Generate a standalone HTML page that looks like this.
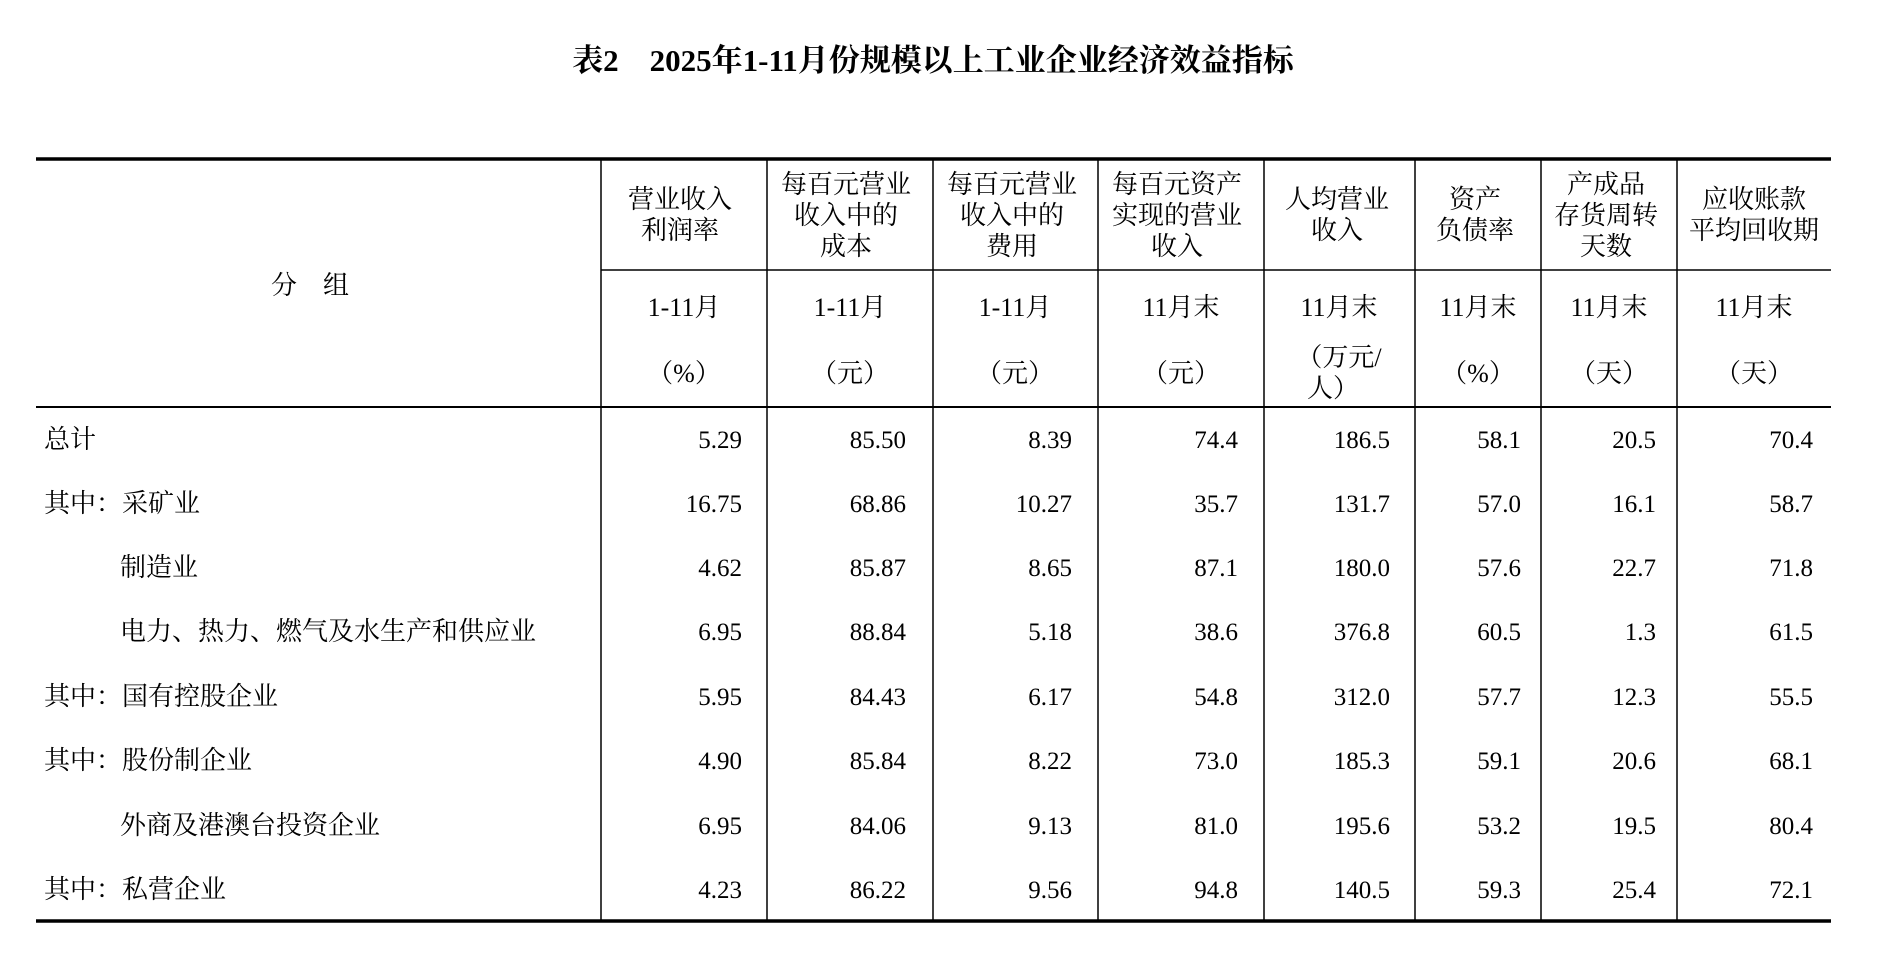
<!DOCTYPE html>
<html><head><meta charset="utf-8"><style>
html,body{margin:0;padding:0;background:#fff;}
svg{display:block;}
text{font-family:"Liberation Serif","Noto Serif CJK SC",serif;font-size:26px;fill:#000;}
.t{font-weight:bold;font-size:31px;}
.c{text-anchor:middle;}
.r{text-anchor:end;font-size:25px;}
.n{font-size:25px;}
</style></head><body>
<svg width="1884" height="976" viewBox="0 0 1884 976" xmlns="http://www.w3.org/2000/svg">
<text class="t c" x="933" y="71">表2　2025年1-11月份规模以上工业企业经济效益指标</text>
<line x1="36" y1="159" x2="1831" y2="159" stroke="#000" stroke-width="3.5"/>
<line x1="36" y1="921" x2="1831" y2="921" stroke="#000" stroke-width="3.5"/>
<line x1="36" y1="407" x2="1831" y2="407" stroke="#000" stroke-width="2"/>
<line x1="601" y1="270" x2="1831" y2="270" stroke="#000" stroke-width="1.5"/>
<g stroke="#000" stroke-width="1.5">
<line x1="601" y1="159" x2="601" y2="921"/><line x1="767" y1="159" x2="767" y2="921"/>
<line x1="933" y1="159" x2="933" y2="921"/><line x1="1098" y1="159" x2="1098" y2="921"/>
<line x1="1264" y1="159" x2="1264" y2="921"/><line x1="1415" y1="159" x2="1415" y2="921"/>
<line x1="1541" y1="159" x2="1541" y2="921"/><line x1="1677" y1="159" x2="1677" y2="921"/>
</g>
<text class="c" x="310" y="294">分　组</text>
<g>
<text class="c" x="680" y="208">营业收入</text><text class="c" x="680" y="239">利润率</text>
<text class="c" x="846" y="193">每百元营业</text><text class="c" x="846" y="224">收入中的</text><text class="c" x="846" y="255">成本</text>
<text class="c" x="1012" y="193">每百元营业</text><text class="c" x="1012" y="224">收入中的</text><text class="c" x="1012" y="255">费用</text>
<text class="c" x="1177" y="193">每百元资产</text><text class="c" x="1177" y="224">实现的营业</text><text class="c" x="1177" y="255">收入</text>
<text class="c" x="1337" y="208">人均营业</text><text class="c" x="1337" y="239">收入</text>
<text class="c" x="1475" y="208">资产</text><text class="c" x="1475" y="239">负债率</text>
<text class="c" x="1606" y="193">产成品</text><text class="c" x="1606" y="224">存货周转</text><text class="c" x="1606" y="255">天数</text>
<text class="c" x="1754" y="208">应收账款</text><text class="c" x="1754" y="239">平均回收期</text>
<text class="c" x="684" y="316">1-11月</text><text class="c" x="850" y="316">1-11月</text><text class="c" x="1015" y="316">1-11月</text>
<text class="c" x="1181" y="316">11月末</text><text class="c" x="1339" y="316">11月末</text><text class="c" x="1478" y="316">11月末</text>
<text class="c" x="1609" y="316">11月末</text><text class="c" x="1754" y="316">11月末</text>
<text class="c" x="684" y="382">（%）</text><text class="c" x="850" y="382">（元）</text><text class="c" x="1015" y="382">（元）</text>
<text class="c" x="1181" y="382">（元）</text><text class="c" x="1339" y="366">（万元/</text><text class="c" x="1333" y="397">人）</text>
<text class="c" x="1478" y="382">（%）</text><text class="c" x="1609" y="382">（天）</text><text class="c" x="1754" y="382">（天）</text>
</g>
<g>
<text x="44" y="448">总计</text>
<text x="44" y="512">其中：采矿业</text>
<text x="120" y="576">制造业</text>
<text x="120" y="640">电力、热力、燃气及水生产和供应业</text>
<text x="44" y="705">其中：国有控股企业</text>
<text x="44" y="769">其中：股份制企业</text>
<text x="120" y="834">外商及港澳台投资企业</text>
<text x="44" y="898">其中：私营企业</text>
</g>
<g>
<text class="r" x="742" y="448">5.29</text><text class="r" x="906" y="448">85.50</text><text class="r" x="1072" y="448">8.39</text><text class="r" x="1238" y="448">74.4</text><text class="r" x="1390" y="448">186.5</text><text class="r" x="1521" y="448">58.1</text><text class="r" x="1656" y="448">20.5</text><text class="r" x="1813" y="448">70.4</text>
<text class="r" x="742" y="512">16.75</text><text class="r" x="906" y="512">68.86</text><text class="r" x="1072" y="512">10.27</text><text class="r" x="1238" y="512">35.7</text><text class="r" x="1390" y="512">131.7</text><text class="r" x="1521" y="512">57.0</text><text class="r" x="1656" y="512">16.1</text><text class="r" x="1813" y="512">58.7</text>
<text class="r" x="742" y="576">4.62</text><text class="r" x="906" y="576">85.87</text><text class="r" x="1072" y="576">8.65</text><text class="r" x="1238" y="576">87.1</text><text class="r" x="1390" y="576">180.0</text><text class="r" x="1521" y="576">57.6</text><text class="r" x="1656" y="576">22.7</text><text class="r" x="1813" y="576">71.8</text>
<text class="r" x="742" y="640">6.95</text><text class="r" x="906" y="640">88.84</text><text class="r" x="1072" y="640">5.18</text><text class="r" x="1238" y="640">38.6</text><text class="r" x="1390" y="640">376.8</text><text class="r" x="1521" y="640">60.5</text><text class="r" x="1656" y="640">1.3</text><text class="r" x="1813" y="640">61.5</text>
<text class="r" x="742" y="705">5.95</text><text class="r" x="906" y="705">84.43</text><text class="r" x="1072" y="705">6.17</text><text class="r" x="1238" y="705">54.8</text><text class="r" x="1390" y="705">312.0</text><text class="r" x="1521" y="705">57.7</text><text class="r" x="1656" y="705">12.3</text><text class="r" x="1813" y="705">55.5</text>
<text class="r" x="742" y="769">4.90</text><text class="r" x="906" y="769">85.84</text><text class="r" x="1072" y="769">8.22</text><text class="r" x="1238" y="769">73.0</text><text class="r" x="1390" y="769">185.3</text><text class="r" x="1521" y="769">59.1</text><text class="r" x="1656" y="769">20.6</text><text class="r" x="1813" y="769">68.1</text>
<text class="r" x="742" y="834">6.95</text><text class="r" x="906" y="834">84.06</text><text class="r" x="1072" y="834">9.13</text><text class="r" x="1238" y="834">81.0</text><text class="r" x="1390" y="834">195.6</text><text class="r" x="1521" y="834">53.2</text><text class="r" x="1656" y="834">19.5</text><text class="r" x="1813" y="834">80.4</text>
<text class="r" x="742" y="898">4.23</text><text class="r" x="906" y="898">86.22</text><text class="r" x="1072" y="898">9.56</text><text class="r" x="1238" y="898">94.8</text><text class="r" x="1390" y="898">140.5</text><text class="r" x="1521" y="898">59.3</text><text class="r" x="1656" y="898">25.4</text><text class="r" x="1813" y="898">72.1</text>
</g>
</svg>
</body></html>
